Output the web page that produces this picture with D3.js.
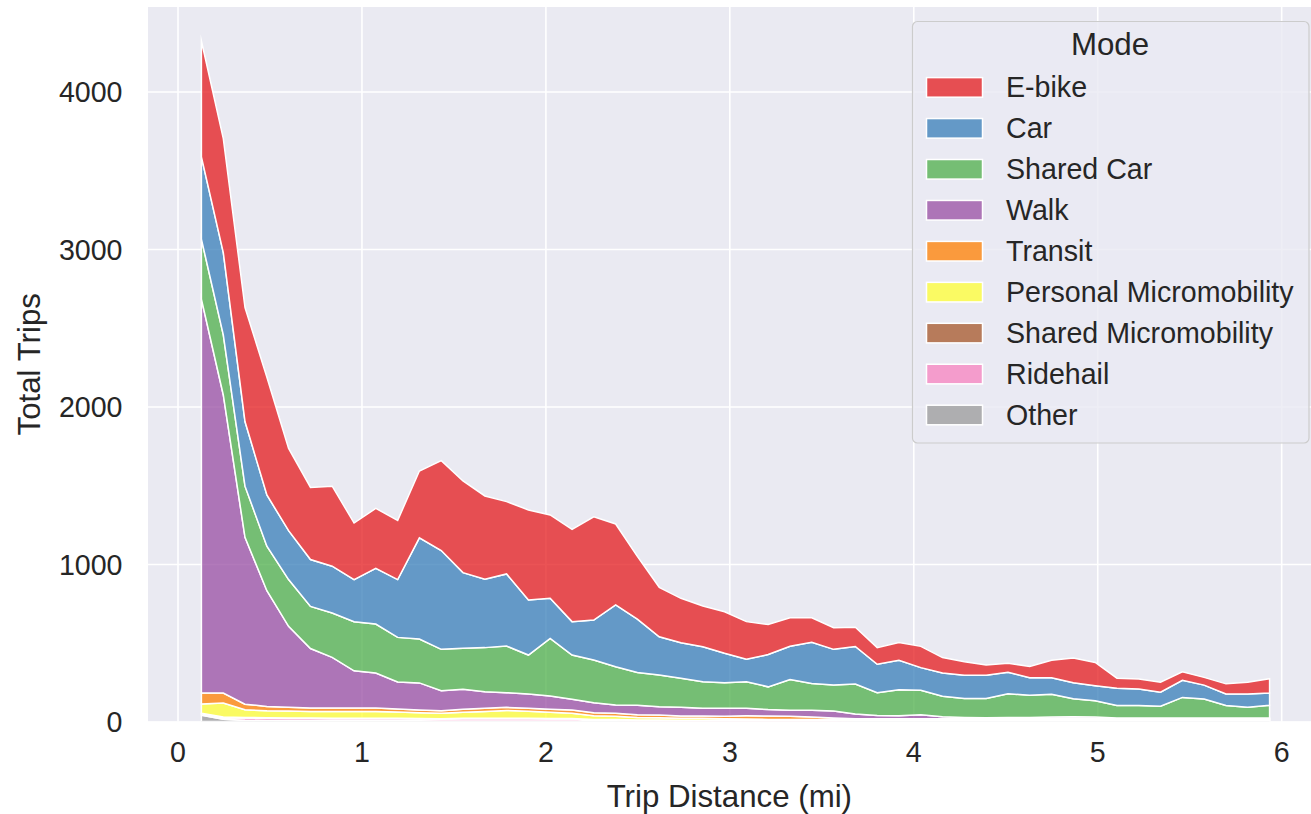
<!DOCTYPE html>
<html>
<head>
<meta charset="utf-8">
<script src="https://cdn.jsdelivr.net/npm/d3@7"></script>
<style>
  html, body { margin: 0; padding: 0; background: #ffffff; }
  svg { display: block; font-family: "Liberation Sans", Arial, sans-serif; }
</style>
</head>
<body>
<svg id="chart" width="1311" height="814"></svg>
<script>
// ---------------- data ----------------
const distances = [0.130, 0.249, 0.367, 0.486, 0.604, 0.723, 0.841, 0.960, 1.078, 1.197,
  1.315, 1.434, 1.552, 1.671, 1.789, 1.908, 2.026, 2.145, 2.263, 2.382,
  2.500, 2.619, 2.737, 2.856, 2.974, 3.093, 3.211, 3.330, 3.448, 3.567,
  3.685, 3.804, 3.922, 4.041, 4.159, 4.278, 4.396, 4.515, 4.633, 4.752,
  4.870, 4.989, 5.107, 5.226, 5.344, 5.463, 5.581, 5.700, 5.818, 5.937];

const modes = ["E-bike", "Car", "Shared Car", "Walk", "Transit",
  "Personal Micromobility", "Shared Micromobility", "Ridehail", "Other"];

const ebike = [735, 723, 724, 748, 522, 458, 508, 359, 381, 376,
  424, 571, 582, 529, 459, 572, 529, 586, 656, 514,
  398, 314, 282, 258, 264, 239, 191, 180, 155, 137,
  122, 106, 114, 135, 98, 85, 64, 57, 72, 111,
  157, 148, 64, 63, 63, 53, 49, 64, 74, 91];
const car = [523, 522, 410, 325, 311, 297, 297, 268, 353, 367,
  642, 627, 480, 434, 458, 349, 254, 212, 254, 392,
  339, 243, 226, 222, 187, 142, 205, 212, 262, 227,
  238, 180, 186, 144, 148, 148, 148, 137, 112, 105,
  101, 95, 110, 106, 89, 109, 88, 74, 84, 78];
const sharedCar = [381, 382, 325, 283, 297, 268, 282, 311, 311, 283,
  279, 262, 261, 280, 296, 247, 366, 281, 271, 243,
  208, 201, 184, 169, 162, 169, 144, 194, 169, 165,
  190, 145, 166, 155, 130, 120, 122, 150, 140, 145,
  115, 104, 78, 78, 74, 130, 120, 78, 68, 80];
const walk = [2500, 1892, 1059, 734, 514, 378, 322, 237, 223, 171,
  172, 127, 127, 105, 93, 91, 85, 68, 63, 53,
  60, 53, 55, 49, 50, 48, 41, 39, 44, 44,
  30, 20, 18, 25, 12, 8, 6, 8, 8, 10,
  12, 10, 5, 5, 5, 5, 5, 5, 5, 5];
const transit = [70, 63, 35, 28, 24, 22, 22, 21, 21, 20,
  18, 17, 18, 20, 20, 19, 19, 20, 19, 18,
  18, 17, 15, 15, 16, 20, 22, 20, 15, 10,
  4, 4, 4, 4, 4, 4, 4, 4, 4, 4,
  4, 4, 4, 4, 4, 4, 4, 4, 4, 4];
const personalMicro = [58, 90, 49, 44, 44, 41, 42, 44, 44, 40,
  36, 34, 39, 44, 49, 44, 39, 34, 25, 22,
  16, 15, 12, 12, 10, 8, 5, 5, 5, 4,
  4, 4, 4, 4, 4, 4, 4, 4, 4, 4,
  4, 4, 4, 4, 4, 4, 4, 4, 4, 4];
const sharedMicro = [5, 5, 4, 4, 3, 3, 3, 3, 3, 3,
  3, 3, 3, 3, 4, 4, 3, 3, 3, 3,
  2, 2, 2, 2, 2, 2, 2, 2, 2, 2,
  2, 2, 2, 2, 2, 2, 2, 2, 2, 2,
  2, 2, 2, 2, 2, 2, 2, 2, 2, 2];
const ridehail = [8, 8, 14, 14, 14, 14, 13, 13, 13, 13,
  12, 12, 14, 14, 14, 14, 13, 13, 6, 6,
  5, 5, 4, 4, 4, 4, 4, 4, 4, 4,
  5, 5, 5, 5, 5, 5, 5, 5, 5, 5,
  5, 5, 5, 5, 5, 5, 5, 5, 5, 5];
const other = [40, 15, 8, 6, 5, 5, 5, 4, 4, 4,
  4, 3, 3, 3, 3, 3, 3, 3, 3, 3,
  2, 2, 2, 2, 2, 2, 2, 2, 2, 2,
  3, 3, 3, 3, 3, 3, 3, 3, 3, 3,
  3, 3, 3, 3, 3, 3, 3, 3, 3, 3];

const colors = ["#e41a1c", "#377eb8", "#4daf4a", "#984ea3", "#ff7f00",
  "#ffff33", "#a65628", "#f781bf", "#999999"];

const xTicks = [0, 1, 2, 3, 4, 5, 6];
const yTicks = [0, 1000, 2000, 3000, 4000];
const xLabel = "Trip Distance (mi)";
const yLabel = "Total Trips";
const legendTitle = "Mode";

// ---------------- build table ----------------
const seriesByMode = {
  "E-bike": ebike, "Car": car, "Shared Car": sharedCar, "Walk": walk,
  "Transit": transit, "Personal Micromobility": personalMicro,
  "Shared Micromobility": sharedMicro, "Ridehail": ridehail, "Other": other
};
const rows = distances.map((d, i) => {
  const r = { dist: d };
  modes.forEach(m => { r[m] = seriesByMode[m][i]; });
  return r;
});
const stackKeys = modes.slice().reverse(); // bottom -> top
const stacked = d3.stack().keys(stackKeys)(rows);
const colorOf = d3.scaleOrdinal().domain(modes).range(colors);

// ---------------- layout ----------------
const svg = d3.select("#chart");
const plot = { left: 148, top: 7, right: 1323, bottom: 721.5 };
const tickFont = "28.6px", labelFont = "31.25px";

const xMin = d3.min(distances), xMax = d3.max(distances);
const xPad = (xMax - xMin) * 0.05;
const x = d3.scaleLinear().domain([xMin - xPad, xMax + xPad]).range([plot.left, plot.right]);
const yMaxData = d3.max(stacked[stacked.length - 1], d => d[1]);
const y = d3.scaleLinear().domain([0, yMaxData * 1.05]).range([plot.bottom, plot.top]);

const textColor = "#262626";

svg.append("defs").append("clipPath").attr("id", "clip")
  .append("rect").attr("x", plot.left).attr("y", plot.top)
  .attr("width", plot.right - plot.left).attr("height", plot.bottom - plot.top);

svg.append("rect").attr("x", plot.left).attr("y", plot.top)
  .attr("width", plot.right - plot.left).attr("height", plot.bottom - plot.top)
  .attr("fill", "#eaeaf2");

// grid + tick labels
const gx = svg.append("g").attr("transform", `translate(0,${plot.bottom})`)
  .call(d3.axisBottom(x).tickValues(xTicks).tickSize(-(plot.bottom - plot.top)).tickPadding(20).tickFormat(d3.format("d")));
const gy = svg.append("g").attr("transform", `translate(${plot.left},0)`)
  .call(d3.axisLeft(y).tickValues(yTicks).tickSize(-(plot.right - plot.left)).tickPadding(25.5).tickFormat(d3.format("d")));
[gx, gy].forEach(g => {
  g.select(".domain").remove();
  g.selectAll(".tick line").attr("stroke", "#ffffff").attr("stroke-width", 1.6);
  g.selectAll(".tick text").attr("fill", textColor).style("font-size", tickFont)
    .style("font-family", "'Liberation Sans', Arial, sans-serif");
});
gy.selectAll(".tick text").attr("dy", "0.36em");

// areas
const area = d3.area()
  .x(d => x(d.data.dist))
  .y0(d => y(d[0]))
  .y1(d => y(d[1]));

svg.append("g").attr("clip-path", "url(#clip)")
  .selectAll("path").data(stacked).join("path")
  .attr("d", area)
  .attr("fill", d => colorOf(d.key))
  .attr("fill-opacity", 0.75)
  .attr("stroke", "#ffffff")
  .attr("stroke-width", 1.5)
  .attr("stroke-linejoin", "miter")
  .attr("stroke-miterlimit", 10);

// axis labels
svg.append("text").attr("x", (x(0) + x(6)) / 2).attr("y", 807)
  .attr("text-anchor", "middle").attr("fill", textColor)
  .style("font-size", labelFont).text(xLabel);
svg.append("text").attr("transform", `translate(40,${(plot.top + plot.bottom) / 2}) rotate(-90)`)
  .attr("text-anchor", "middle").attr("fill", textColor)
  .style("font-size", labelFont).text(yLabel);

// legend
const lg = svg.append("g");
lg.append("rect").attr("x", 912.5).attr("y", 21.5).attr("width", 396.5).attr("height", 421.5)
  .attr("rx", 5).attr("fill", "#eaeaf2").attr("fill-opacity", 0.8)
  .attr("stroke", "#cccccc").attr("stroke-width", 1.2);
lg.append("text").attr("x", 1110).attr("y", 55).attr("text-anchor", "middle")
  .attr("fill", textColor).style("font-size", labelFont).text(legendTitle);
modes.forEach((m, i) => {
  const cy = 87.4 + i * 40.95;
  lg.append("rect").attr("x", 926.5).attr("y", cy - 9.8).attr("width", 56).attr("height", 19.6)
    .attr("fill", colorOf(m)).attr("fill-opacity", 0.75)
    .attr("stroke", "#ffffff").attr("stroke-width", 1.5);
  lg.append("text").attr("x", 1006).attr("y", cy + 10).attr("fill", textColor)
    .style("font-size", tickFont).text(m);
});
</script>
</body>
</html>
